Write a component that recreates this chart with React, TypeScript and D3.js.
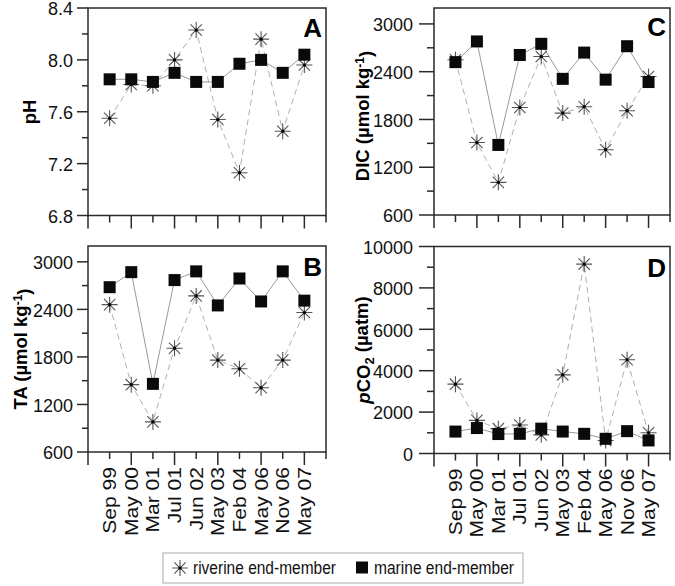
import React from 'react';
import { scaleLinear, line, format } from 'd3';

const months = ['Sep 99', 'May 00', 'Mar 01', 'Jul 01', 'Jun 02', 'May 03', 'Feb 04', 'May 06', 'Nov 06', 'May 07'];

const phRiverine = [7.55, 7.81, 7.80, 8.00, 8.23, 7.54, 7.13, 8.16, 7.45, 7.96];
const phMarine = [7.85, 7.85, 7.83, 7.90, 7.83, 7.83, 7.97, 8.00, 7.90, 8.04];

const taRiverine = [2460, 1450, 980, 1910, 2570, 1760, 1650, 1410, 1760, 2360];
const taMarine = [2680, 2870, 1460, 2770, 2880, 2450, 2790, 2500, 2880, 2510];

const dicRiverine = [2550, 1510, 1010, 1950, 2590, 1880, 1960, 1420, 1910, 2340];
const dicMarine = [2520, 2780, 1480, 2610, 2750, 2310, 2640, 2300, 2720, 2270];

const pco2Riverine = [3350, 1600, 1200, 1380, 900, 3800, 9150, 630, 4530, 1000];
const pco2Marine = [1060, 1230, 940, 950, 1200, 1060, 950, 710, 1080, 630];

const phTicks = [6.8, 7.2, 7.6, 8.0, 8.4];
const phMinor = [7.0, 7.4, 7.8, 8.2];
const carbTicks = [600, 1200, 1800, 2400, 3000];
const carbMinor = [900, 1500, 2100, 2700];
const pco2Ticks = [0, 2000, 4000, 6000, 8000, 10000];
const pco2Minor = [1000, 3000, 5000, 7000, 9000];

const font = '"Liberation Sans", Arial, sans-serif';
const frameColor = '#2a2a2a';

const starPath = (x: number, y: number, r: number) => {
  const d = r * 0.7071;
  return `M${x - r},${y}L${x + r},${y}M${x},${y - r}L${x},${y + r}` +
    `M${x - d},${y - d}L${x + d},${y + d}M${x - d},${y + d}L${x + d},${y - d}`;
};

const Star = ({ x, y }: { x: number; y: number }) => (
  <g>
    <path d={starPath(x, y, 8)} stroke="#555" strokeWidth={1.1} fill="none" />
    <circle cx={x} cy={y} r={1.6} fill="#000" />
  </g>
);

const Square = ({ x, y }: { x: number; y: number }) => (
  <rect x={x - 6} y={y - 6} width={12} height={12} fill="#0a0a0a" />
);

type PanelProps = {
  left: number; right: number; top: number; bottom: number;
  domain: [number, number];
  ticks: number[]; minor: number[]; fmt: (v: number) => string;
  riverine: number[]; marine: number[];
  letter: string; letterY: number;
  majorLen: number; minorLen: number; labelGap: number;
  title: React.ReactNode; titleX: number; titleY: number;
  showMonths: boolean;
};

const Panel = (p: PanelProps) => {
  const x = scaleLinear().domain([0, 11]).range([p.left, p.right]);
  const y = scaleLinear().domain(p.domain).range([p.bottom, p.top]);
  const path = line<number>().x((_, i) => x(i + 1)).y(d => y(d));
  const xTicks = [0, 1, 2, 3, 4, 5, 6, 7, 8, 9, 10, 11];

  return (
    <g>
      <path d={path(p.riverine) || ''} fill="none" stroke="#b0b0b0" strokeWidth={1} strokeDasharray="6,4" />
      <path d={path(p.marine) || ''} fill="none" stroke="#999" strokeWidth={1} />
      {p.riverine.map((d, i) => <Star key={'r' + i} x={x(i + 1)} y={y(d)} />)}
      {p.marine.map((d, i) => <Square key={'m' + i} x={x(i + 1)} y={y(d)} />)}

      <rect x={p.left} y={p.top} width={p.right - p.left} height={p.bottom - p.top}
        fill="none" stroke={frameColor} strokeWidth={1.5} />

      {p.ticks.map(t => (
        <g key={'t' + t}>
          <line x1={p.left - p.majorLen} x2={p.left} y1={y(t)} y2={y(t)} stroke={frameColor} strokeWidth={1.5} />
          <text x={p.left - p.labelGap} y={y(t)} dy="0.4em" textAnchor="end"
            fontSize={18} fontFamily={font} fill="#111">{p.fmt(t)}</text>
        </g>
      ))}
      {p.minor.map(t => (
        <line key={'mn' + t} x1={p.left - p.minorLen} x2={p.left} y1={y(t)} y2={y(t)} stroke={frameColor} strokeWidth={1.5} />
      ))}

      {xTicks.map(t => (
        <line key={'x' + t} x1={x(t)} x2={x(t)} y1={p.bottom} y2={p.bottom + (t % 2 === 0 ? 13 : 7)}
          stroke={frameColor} strokeWidth={1.5} />
      ))}
      {p.showMonths && months.map(m => m).map((m, i) => (
        <text key={m} transform={`translate(${x(i + 1)},${p.bottom + 15}) rotate(-90) scale(1.17,1)`}
          dy="0.36em" textAnchor="end" fontSize={18} fontFamily={font} fill="#111">{m}</text>
      ))}

      <text x={p.right - 4} y={p.letterY} textAnchor="end" fontSize={26} fontWeight="bold"
        fontFamily={font} fill="#000">{p.letter}</text>

      <text transform={`translate(${p.titleX},${p.titleY}) rotate(-90)`} textAnchor="middle"
        fontSize={18.5} fontWeight="bold" fontFamily={font} fill="#000">{p.title}</text>
    </g>
  );
};

const umol = (name: string) => (
  <>
    {name} (µmol kg<tspan dy="-0.45em" fontSize={12}>-1</tspan><tspan dy="0.45em">)</tspan>
  </>
);

const App = () => {
  const f1 = format('.1f');
  const f0 = format('d');
  return (
    <svg width={675} height={586} style={{ position: 'absolute', left: 0, top: 0, background: '#fff' }}>
      <Panel left={88} right={326} top={8} bottom={215.5} domain={[6.8, 8.4]}
        ticks={phTicks} minor={phMinor} fmt={f1} riverine={phRiverine} marine={phMarine}
        letter="A" letterY={37} majorLen={11} minorLen={6} labelGap={15}
        title="pH" titleX={36} titleY={112} showMonths={false} />
      <Panel left={434} right={670} top={8} bottom={215} domain={[600, 3200]}
        ticks={carbTicks} minor={carbMinor} fmt={f0} riverine={dicRiverine} marine={dicMarine}
        letter="C" letterY={36} majorLen={15} minorLen={7} labelGap={21}
        title={umol('DIC')} titleX={369} titleY={116} showMonths={false} />
      <Panel left={88} right={326} top={246} bottom={452} domain={[600, 3200]}
        ticks={carbTicks} minor={carbMinor} fmt={f0} riverine={taRiverine} marine={taMarine}
        letter="B" letterY={276} majorLen={11} minorLen={6} labelGap={15}
        title={umol('TA')} titleX={27} titleY={349} showMonths={true} />
      <Panel left={434} right={670} top={246.5} bottom={453.5} domain={[0, 10000]}
        ticks={pco2Ticks} minor={pco2Minor} fmt={f0} riverine={pco2Riverine} marine={pco2Marine}
        letter="D" letterY={277} majorLen={15} minorLen={7} labelGap={21}
        title={<><tspan fontStyle="italic">p</tspan>CO<tspan dy="0.3em" fontSize={13}>2</tspan><tspan dy="-0.3em"> (µatm)</tspan></>}
        titleX={370} titleY={350} showMonths={true} />

      <rect x={163} y={553} width={360} height={30} fill="#fff" stroke="#aaa" strokeWidth={1} />
      <Star x={180} y={568} />
      <text x={193} y={574} fontSize={17.5} fontFamily={font} fill="#111"
        textLength={143} lengthAdjust="spacingAndGlyphs">riverine end-member</text>
      <Square x={362} y={567.5} />
      <text x={374} y={574} fontSize={17.5} fontFamily={font} fill="#111"
        textLength={140} lengthAdjust="spacingAndGlyphs">marine end-member</text>
    </svg>
  );
};

export default App;
